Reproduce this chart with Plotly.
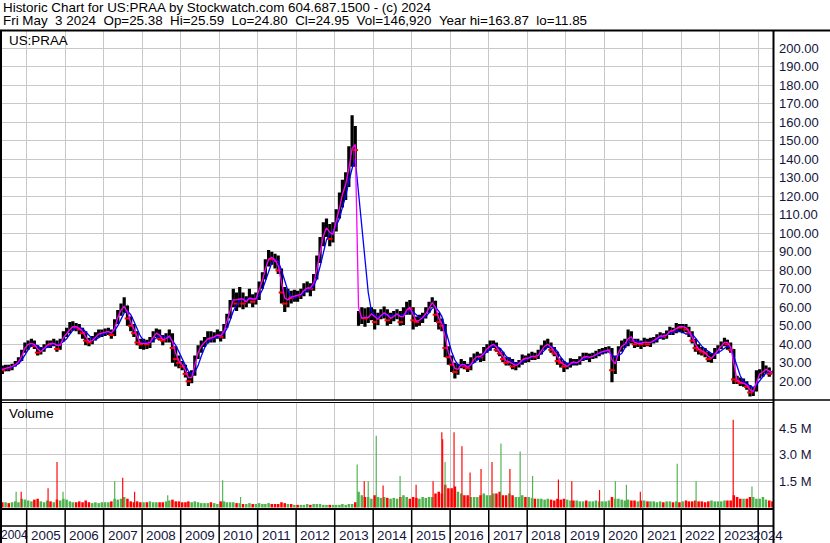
import pandas as pd
import plotly.graph_objects as go

# ---------------- data (monthly) ----------------
months = pd.date_range("2004-04-01", "2024-05-01", freq="MS") + pd.Timedelta(days=14)

open_ = [
    28, 27, 26, 28, 27, 28.5, 30, 31.5, 36,
    40, 40, 41, 39, 35.5, 37, 39, 40.5, 40, 41.5, 37.5, 42,
    45.5, 47, 49, 50, 49, 48, 46, 42, 41, 43, 45, 46,
    46, 47, 47, 45, 52, 57, 60, 61, 54, 50, 46, 41,
    40, 41, 40, 42, 45, 47, 43, 42, 44, 45, 38, 32,
    30, 28, 24, 20, 24, 33, 38, 40, 42, 44, 43, 45,
    45, 44, 50, 55, 62, 66, 62, 67, 62, 64, 66, 63,
    66, 72, 77, 84, 88, 86, 85, 80, 68, 62, 66, 65,
    67, 66, 68, 70, 71, 70, 76, 85, 95, 102, 104, 97,
    102, 110, 117, 125, 128, 142, 150, 50.5, 52, 55, 54, 55,
    58, 52, 55, 57, 58, 53, 55, 56, 57, 52, 58, 60,
    59, 53, 52, 54, 55, 58, 62, 63, 56, 52, 50, 38,
    33, 29, 25, 28, 30, 28, 27, 31, 33, 34, 33, 37,
    38, 40, 40, 37, 35, 32, 30, 31, 28, 29, 30, 33,
    32, 33, 34, 33, 35, 38, 40, 40, 37, 35, 31, 30,
    28, 28, 31, 30, 30, 32, 34, 33, 33, 34, 35, 36,
    36, 37, 37, 26, 33, 38, 40, 40, 46, 42, 40, 41,
    40, 42, 40, 42, 42, 44, 45, 44, 46, 48, 47, 50,
    49, 50, 48, 46, 42, 38, 37, 36, 35, 32, 33, 36,
    38, 40, 42, 40, 37, 21, 20, 19, 19, 17, 14, 15,
    24, 24, 26, 27, 25.38,
]
high = [
    30, 28.5, 29, 29, 29.5, 31, 33, 37, 41,
    42, 43, 42, 39.5, 38.5, 40, 42, 42, 43, 42, 43, 47,
    49, 52, 52.5, 51.5, 51, 49, 47, 43.5, 44.5, 46.5, 48, 48,
    48.5, 49, 48, 53.5, 58.5, 62, 65.5, 61, 55, 51, 47, 43,
    43, 42.5, 44, 47, 48.5, 48, 45, 46, 48, 46, 39, 34,
    31, 29, 25, 26, 34, 39.5, 42, 44, 47, 47, 46.5, 48,
    47, 51, 56.5, 64, 70, 68, 71, 68, 66, 70, 67, 68,
    74, 79, 86, 91, 90, 89, 88, 81, 71, 70, 69, 69.5,
    69, 70, 73, 74, 73, 78, 88, 98, 106, 108, 105, 106,
    113, 122, 129, 133, 147, 163.87, 158, 58, 60, 59.5, 60, 60,
    59, 57, 59, 60.5, 59, 57, 58, 59, 58, 60, 63, 64,
    60, 55, 56, 57, 60, 63, 65.5, 63.5, 57, 54, 51, 39,
    34, 30, 29.5, 32, 31, 29.5, 33, 35, 36, 35, 38.5, 40,
    42, 42, 41, 38, 36, 33, 33, 32, 30.5, 31.5, 34.5, 34,
    35, 36, 35.5, 37, 39.5, 42, 43, 41, 38.5, 36, 32.5, 31,
    30, 32.5, 32, 32, 33.5, 35.5, 35.5, 35, 35.5, 36.5, 37.5, 38,
    38.5, 39, 38, 34, 39, 42, 43, 48, 47, 43, 43, 42,
    43.5, 43, 43.5, 44, 45.5, 46.5, 46, 47.5, 49.5, 49, 51.5, 51,
    51, 51, 49.5, 47, 43, 40, 38.5, 38, 36, 35, 38, 39.5,
    41.5, 43.5, 42.5, 41, 37.5, 23, 22, 21.5, 20, 18, 17, 26,
    26.5, 31, 28.5, 27.5, 25.59,
]
low = [
    25.5, 24, 25.5, 25.5, 26, 28, 29.5, 31, 35.5,
    37, 38.5, 37.5, 34, 34.5, 36, 38, 38, 39, 36, 37, 41.5,
    44, 46, 47.5, 47, 45.5, 43, 39.5, 39, 40, 42, 43.5, 44,
    44.5, 45, 43, 44.5, 51, 55.5, 57, 50, 47, 44, 39.5, 37.5,
    37, 37.5, 38, 41, 44, 42, 39.5, 41, 41, 30, 28, 27,
    26, 22, 17.5, 19, 23, 32, 35.5, 38.5, 40.5, 41, 41, 43,
    41.5, 43, 49, 54, 60, 58, 60, 59, 60, 62, 60, 61.5,
    64, 70, 75, 82, 83, 81, 78, 62, 57.5, 60, 62, 63,
    63, 64.5, 66, 68, 66, 69, 75, 84, 93, 98, 93, 95,
    101, 108, 114, 118, 125, 136, 136, 50, 51, 49.5, 51.5, 53,
    48, 50.5, 53.5, 54, 50, 51, 52.5, 53.5, 50, 50.5, 56, 56,
    48, 49.5, 50, 51.5, 54, 57, 60, 52, 48, 47, 33, 29,
    25, 21.5, 23.5, 27, 26.5, 25, 26, 30, 31.5, 30.5, 31, 35.5,
    36.5, 38, 36, 33.5, 30.5, 28.5, 28.5, 26.5, 26, 27.5, 29, 30,
    30.5, 31.5, 31.5, 32, 34.5, 37, 38, 35.5, 33.5, 29, 27.5, 25,
    26.5, 27.5, 28.5, 28.5, 29, 31, 31.5, 30.5, 32, 32.5, 33.5, 34.5,
    35, 35.5, 19.5, 24, 31, 36, 38, 39, 40.5, 38, 38.5, 37.5,
    38.5, 39, 38.5, 40.5, 41, 43, 42.5, 43, 45, 45, 46, 46.5,
    46, 46.5, 44, 40.5, 36, 34.5, 34, 33, 30.5, 30, 32, 35,
    37.5, 39, 37, 35.5, 18.5, 18.5, 17.5, 17, 15.5, 11.85, 12, 14.5,
    21.5, 22.5, 24.5, 22.5, 24.5,
]
close = [
    27, 26, 28, 27, 28.5, 30, 31.5, 36, 40,
    40, 41, 39, 35.5, 37, 39, 40.5, 40, 41.5, 37.5, 42, 45.5,
    47, 49, 50, 49, 48, 46, 42, 41, 43, 45, 46, 46,
    47, 47, 45, 52, 57, 60, 61, 54, 50, 46, 41, 40,
    41, 40, 42, 45, 47, 43, 42, 44, 45, 38, 32, 30,
    28, 24, 20, 24, 33, 38, 40, 42, 44, 43, 45, 45,
    44, 50, 55, 62, 66, 62, 67, 62, 64, 66, 63, 66,
    72, 77, 84, 88, 86, 85, 80, 68, 62, 66, 65, 67,
    66, 68, 70, 71, 70, 76, 85, 95, 102, 104, 97, 102,
    110, 117, 125, 128, 142, 150, 145, 52, 55, 54, 55, 58,
    52, 55, 57, 58, 53, 55, 56, 57, 52, 58, 60, 59,
    53, 52, 54, 55, 58, 62, 63, 56, 52, 50, 38, 33,
    29, 25, 28, 30, 28, 27, 31, 33, 34, 33, 37, 38,
    40, 40, 37, 35, 32, 30, 31, 28, 29, 30, 33, 32,
    33, 34, 33, 35, 38, 40, 40, 37, 35, 31, 30, 28,
    28, 31, 30, 30, 32, 34, 33, 33, 34, 35, 36, 36,
    37, 37, 26, 33, 38, 40, 40, 46, 42, 40, 41, 40,
    42, 40, 42, 42, 44, 45, 44, 46, 48, 47, 50, 49,
    50, 48, 46, 42, 38, 37, 36, 35, 32, 33, 36, 38,
    40, 42, 40, 37, 21, 20, 19, 19, 17, 14, 15, 24,
    24, 26, 27, 24, 24.95,
]
ma_fast = [
    27.5, 26.5, 27, 27.5, 28, 29, 30.5, 33.5, 38,
    40, 40.5, 40, 37.5, 36, 38, 39.5, 40.5, 40.5, 39.5, 39.5, 43.5,
    46, 48, 49.5, 49.5, 48.5, 47, 44, 41.5, 42, 44, 45.5, 46,
    46.5, 47, 46, 48.5, 54.5, 58.5, 60.5, 57.5, 52, 48, 43.5, 40.5,
    40.5, 40.5, 41, 43.5, 46, 45, 42.5, 43, 44.5, 41.5, 35, 31,
    29, 26, 22, 22, 28.5, 35.5, 39, 41, 43, 43.5, 44, 45,
    44.5, 47, 52.5, 58.5, 64, 64, 64.5, 64.5, 63, 65, 64.5, 64.5,
    69, 74.5, 80.5, 86, 87, 85.5, 82.5, 74, 65, 64, 65.5, 66,
    66.5, 67, 69, 70.5, 70.5, 73, 80.5, 90, 98.5, 103, 100.5, 99.5,
    106, 113.5, 121, 126.5, 135, 146, 148, 60, 54, 54.5, 54.5, 56.5,
    55, 53.5, 55.5, 57, 56, 54, 55, 56.5, 55, 55, 58.5, 60,
    56, 52.5, 53, 54.5, 56.5, 60, 62.5, 60, 54, 51, 44, 35.5,
    31, 27, 26.5, 29, 29, 27.5, 29, 32, 33.5, 33.5, 35, 37.5,
    39, 40, 38.5, 36, 33.5, 31, 30.5, 29.5, 28.5, 29.5, 31.5, 32.5,
    32.5, 33.5, 33.5, 34, 36.5, 39, 40, 38.5, 36, 33, 30.5, 29,
    28, 29.5, 30.5, 30, 31, 33, 33.5, 33, 33.5, 34.5, 35.5, 36,
    36.5, 37, 31.5, 29.5, 35.5, 39, 40, 43, 44, 41, 40.5, 40.5,
    41, 41, 41, 42, 43, 44.5, 44.5, 45, 47, 47.5, 48.5, 49.5,
    49.5, 49, 47, 44, 40, 37.5, 36.5, 35.5, 33.5, 32.5, 34.5, 37,
    39, 41, 41, 38.5, 29, 20.5, 19.5, 19, 18, 15.5, 14.5, 19.5,
    24, 25, 26.5, 25.5, 24.5,
]
ma_slow = [
    27, 27, 27, 27, 27.5, 28.5, 29.5, 31.5, 34.5,
    37, 39.5, 40, 39, 38, 37.5, 38.5, 39, 40, 40, 40, 41.5,
    43, 45.5, 47.5, 49, 49, 48.5, 46.5, 44.5, 43, 42.5, 43.5, 45,
    46, 46.5, 46.5, 47.5, 50, 53.5, 57, 58, 56, 52.5, 48, 44.5,
    42, 40.5, 41, 42, 43.5, 44.5, 44.5, 44, 43.5, 42, 39.5, 36,
    32, 28.5, 25.5, 24, 25, 28.5, 33.5, 38, 41, 42.5, 43.5, 44,
    44.5, 46, 48.5, 53, 58, 61, 64, 64, 64, 64.5, 64, 64.5,
    66, 69.5, 74, 80, 84, 86, 85, 80, 74, 69, 65.5, 65,
    66, 66.5, 68, 69, 70, 71.5, 75.5, 82, 89.5, 96.5, 99.5, 101,
    104, 108, 114, 120, 128, 135, 140, 122, 102, 84, 68, 58,
    55.5, 55, 55.5, 56, 56, 55.5, 55.5, 56, 55.5, 56, 57, 58,
    57.5, 56, 54.5, 54, 55, 57, 59.5, 60, 58, 55, 49, 43,
    36, 31.5, 29, 28.5, 28.5, 28.5, 29, 30, 31.5, 33, 34.5, 36,
    37.5, 39, 39, 38, 36, 33.5, 32, 30.5, 29.5, 29.5, 30.5, 31.5,
    32.5, 33, 33.5, 34, 35, 37, 38.5, 39, 38, 36, 33, 31,
    29.5, 29.5, 29.5, 30, 31, 32, 32.5, 33, 33.5, 34, 35, 35.5,
    36, 36.5, 34, 33, 34, 35, 38, 41, 42.5, 42, 41.5, 41,
    41, 41, 41, 41.5, 42.5, 43.5, 44, 45, 46, 46.5, 47, 47,
    46.5, 45.5, 45.5, 45.5, 43.5, 41, 39, 37.5, 36, 35, 35, 35.5,
    36.5, 38, 39, 38.5, 33, 28, 23, 20, 19, 17.5, 16.5, 18,
    20.5, 22.5, 24.5, 25, 25,
]
# typical daily volume level per month (millions of shares)
vol_base = [
    0.35, 0.3, 0.3, 0.25, 0.3, 0.35, 0.3, 0.5, 0.45,
    0.4, 0.35, 0.45, 0.5, 0.35, 0.3, 0.4, 0.35, 0.3, 0.45, 0.4, 0.5,
    0.45, 0.35, 0.3, 0.3, 0.35, 0.3, 0.4, 0.3, 0.25, 0.3, 0.25, 0.3,
    0.3, 0.3, 0.35, 0.5, 0.45, 0.5, 0.6, 0.5, 0.35, 0.3, 0.35, 0.3,
    0.3, 0.3, 0.35, 0.3, 0.3, 0.3, 0.3, 0.35, 0.4, 0.45, 0.35, 0.35,
    0.3, 0.3, 0.35, 0.3, 0.35, 0.3, 0.25, 0.25, 0.25, 0.3, 0.25, 0.2,
    0.35, 0.35, 0.3, 0.3, 0.3, 0.25, 0.25, 0.2, 0.2, 0.25, 0.2, 0.2,
    0.25, 0.2, 0.2, 0.25, 0.2, 0.2, 0.2, 0.3, 0.25, 0.2, 0.2, 0.15,
    0.15, 0.15, 0.15, 0.2, 0.15, 0.2, 0.2, 0.2, 0.15, 0.15, 0.15, 0.15,
    0.15, 0.15, 0.2, 0.15, 0.2, 0.2, 0.3, 0.9, 0.7, 0.6, 0.6, 0.5,
    0.7, 0.6, 0.55, 0.6, 0.55, 0.5, 0.55, 0.5, 0.6, 0.7, 0.6, 0.5,
    0.6, 0.55, 0.5, 0.6, 0.55, 0.6, 0.6, 0.8, 0.9, 0.8, 1.3, 1.1,
    1.1, 1.2, 0.9, 0.8, 0.7, 0.7, 0.6, 0.6, 0.6, 0.7, 0.8, 0.7,
    0.7, 0.8, 0.8, 0.9, 0.7, 0.7, 0.8, 0.7, 0.6, 0.6, 0.7, 0.6,
    0.6, 0.55, 0.5, 0.5, 0.5, 0.45, 0.5, 0.45, 0.4, 0.5, 0.45, 0.5,
    0.45, 0.4, 0.4, 0.4, 0.35, 0.35, 0.4, 0.35, 0.35, 0.4, 0.35, 0.35,
    0.35, 0.4, 0.6, 0.5, 0.5, 0.45, 0.4, 0.45, 0.4, 0.4, 0.35, 0.4,
    0.4, 0.35, 0.35, 0.35, 0.3, 0.35, 0.3, 0.35, 0.35, 0.3, 0.35, 0.3,
    0.35, 0.4, 0.35, 0.35, 0.4, 0.35, 0.35, 0.3, 0.35, 0.4, 0.35, 0.35,
    0.35, 0.4, 0.4, 0.4, 0.7, 0.6, 0.5, 0.5, 0.5, 0.6, 0.6, 0.5,
    0.5, 0.6, 0.45, 0.4, 0.35,
]
# single-day volume spikes (millions of shares)
spike_dates = ["2004-09-23", "2004-11-10", "2005-07-23", "2005-10-16", "2005-12-12",
               "2007-04-16", "2007-07-01", "2007-10-22", "2008-08-31", "2010-02-03",
               "2010-07-23", "2013-08-02", "2013-10-08", "2013-11-15", "2014-01-30",
               "2014-04-05", "2014-09-13", "2015-02-12", "2015-07-23", "2015-10-14",
               "2015-10-22", "2015-11-14", "2016-02-07", "2016-04-22", "2016-07-08",
               "2016-10-20", "2017-02-01", "2017-04-27", "2017-07-21", "2017-10-26",
               "2018-02-21", "2018-10-24", "2019-02-28", "2019-11-18", "2020-04-16",
               "2020-07-30", "2020-12-09", "2021-11-24", "2022-05-22", "2023-05-09",
               "2023-11-03"]
spike_vals = [0.9, 0.9, 1.1, 2.6, 0.9, 1.5, 1.7, 0.9, 0.7, 1.55,
              0.6, 2.45, 1.5, 1.5, 4.1, 1.25, 1.8, 1.3, 1.5, 4.3,
              3.9, 2.6, 4.3, 3.5, 2.0, 2.2, 2.6, 3.65, 2.2, 3.2,
              1.8, 1.6, 1.5, 1.0, 1.5, 1.3, 0.9, 2.5, 1.5, 5.0,
              1.2]
spike_up = [1, 0, 0, 0, 1, 1, 0, 0, 1, 1,
            1, 1, 0, 1, 1, 0, 1, 0, 0, 0,
            0, 1, 0, 0, 0, 0, 0, 1, 0, 1,
            1, 0, 0, 0, 1, 1, 0, 1, 1, 0,
            1]

years = list(range(2004, 2025))
price_ticks = list(range(20, 201, 10))
vol_ticks = [1.5, 3.0, 4.5]
vol_tick_text = ["1.5 M", "3.0 M", "4.5 M"]

header1 = "Historic Chart for US:PRAA by Stockwatch.com 604.687.1500 - (c) 2024"
header2 = ("Fri May\u00a0\u00a03 2024\u00a0\u00a0Op=25.38\u00a0\u00a0Hi=25.59\u00a0\u00a0Lo=24.80"
           "\u00a0\u00a0Cl=24.95\u00a0\u00a0Vol=146,920\u00a0\u00a0Year hi=163.87\u00a0\u00a0lo=11.85")

# ---------------- geometry ----------------
W, H = 830, 543
ML, MR, MT, MB = 0, 56, 31, 34
PW, PH = W - ML - MR, H - MT - MB


def px(xp):
    return (xp - ML) / PW


def py(yp):
    return (H - MB - yp) / PH


X0, X1 = pd.Timestamp("2004-04-23"), pd.Timestamp("2024-05-30")
DAYS_PER_PX = (X1 - X0).days / PW
FONT = "Liberation Sans, Arial, sans-serif"
GRID = "#c8c8c8"
GREEN = "#4fb24f"
RED = "#ff0000"
TICKCOL = "#14143c"

year_starts = [pd.Timestamp(f"{y}-01-01") for y in years[1:]]

fig = go.Figure()
fig.add_trace(go.Ohlc(
    x=months, open=open_, high=high, low=low, close=close,
    increasing_line_color="black", decreasing_line_color="black",
    line_width=3.2, tickwidth=0.08, xaxis="x", yaxis="y", hoverinfo="skip"))
down = [i for i, (o, c) in enumerate(zip(open_, close)) if c < o]
fig.add_trace(go.Scatter(
    x=[months[i] for i in down], y=[close[i] for i in down], mode="markers",
    marker=dict(symbol="line-ew", size=4, line=dict(color=RED, width=2)),
    xaxis="x", yaxis="y", hoverinfo="skip"))
fig.add_trace(go.Scatter(x=months, y=ma_slow, mode="lines",
                         line=dict(color="#0000ff", width=1.3), xaxis="x", yaxis="y"))
fig.add_trace(go.Scatter(x=months, y=ma_fast, mode="lines",
                         line=dict(color="#ff00ff", width=1.3), xaxis="x", yaxis="y"))

base_cols = [GREEN if c >= o else RED for o, c in zip(open_, close)]
fig.add_trace(go.Bar(x=months, y=vol_base, marker=dict(color=base_cols, line_width=0),
                     width=24 * 86400000, xaxis="x2", yaxis="y2"))
fig.add_trace(go.Bar(x=pd.to_datetime(spike_dates), y=spike_vals,
                     marker=dict(color=[GREEN if u else RED for u in spike_up], line_width=0),
                     width=11 * 86400000, xaxis="x2", yaxis="y2"))

axis_common = dict(range=[X0, X1], type="date", tickvals=year_starts, showgrid=True,
                   gridcolor=GRID, gridwidth=1, showticklabels=False, ticks="",
                   zeroline=False, showline=False, fixedrange=True)

fig.update_layout(
    width=W, height=H,
    margin=dict(l=ML, r=MR, t=MT, b=MB, pad=0),
    paper_bgcolor="white", plot_bgcolor="white",
    showlegend=False, barmode="overlay", hovermode=False,
    xaxis=dict(domain=[0, 1], anchor="y", rangeslider=dict(visible=False), **axis_common),
    xaxis2=dict(domain=[0, 1], anchor="y2", matches="x", **axis_common),
    yaxis=dict(domain=[py(400), 1], range=[9.9, 209.35], side="right",
               tickvals=price_ticks, ticktext=[f"{v:.2f}" for v in price_ticks],
               showgrid=True, gridcolor=GRID, gridwidth=1, zeroline=False,
               ticks="", ticklabelstandoff=4, fixedrange=True,
               tickfont=dict(family=FONT, size=13, color=TICKCOL)),
    yaxis2=dict(domain=[0, py(402)], range=[-0.086, 6.02], side="right",
                tickvals=vol_ticks, ticktext=vol_tick_text,
                showgrid=True, gridcolor=GRID, gridwidth=1, zeroline=False,
                ticks="", ticklabelstandoff=4, fixedrange=True,
                tickfont=dict(family=FONT, size=13, color=TICKCOL)),
)

# ---------------- frame lines ----------------
shapes = []


def hline(yp, x0p, x1p, w):
    shapes.append(dict(type="line", xref="paper", yref="paper", x0=px(x0p), x1=px(x1p),
                       y0=py(yp), y1=py(yp), line=dict(color="black", width=w)))


def vline(xp, y0p, y1p, w):
    shapes.append(dict(type="line", xref="paper", yref="paper", x0=px(xp), x1=px(xp),
                       y0=py(y0p), y1=py(y1p), line=dict(color="black", width=w)))


hline(30.5, 0, W, 2)
hline(400, 0, W, 1.5)
hline(402.5, 0, 774, 1)
hline(509, 0, 774, 2)
hline(526, 0, 774, 1.5)
vline(1, 30, H, 2)
vline(773.5, 30, H, 2)
for ys in year_starts:
    shapes.append(dict(type="line", xref="x", yref="paper", x0=ys, x1=ys,
                       y0=py(509), y1=py(H), line=dict(color="black", width=1.5)))
fig.update_layout(shapes=shapes)

# ---------------- texts ----------------
ann = []


def text(s, xp, yp, anchor="left", size=13.4, color="black"):
    ann.append(dict(text=s, xref="paper", yref="paper", x=px(xp), y=py(yp),
                    xanchor=anchor, yanchor="middle", showarrow=False,
                    font=dict(family=FONT, size=size, color=color)))


text(header1, 1, 7)
text(header2, 1, 20)
text("US:PRAA", 7, 40)
text("Volume", 7, 413)

bounds = [X0] + year_starts + [X1]
for i, y in enumerate(years):
    a, b = bounds[i], bounds[i + 1]
    if i == 0:
        ann.append(dict(text=str(y), xref="paper", yref="paper", x=px(-1.5), y=py(535),
                        xanchor="left", yanchor="middle", showarrow=False,
                        font=dict(family=FONT, size=12, color=TICKCOL)))
        continue
    if i == len(years) - 1:
        xpos = a + (b - a) / 2 + pd.Timedelta(days=DAYS_PER_PX * 2)
    else:
        xpos = a + (b - a) / 2
    ann.append(dict(text=str(y), xref="x", yref="paper", x=xpos, y=py(535),
                    xanchor="center", yanchor="middle", showarrow=False,
                    font=dict(family=FONT, size=13.4, color=TICKCOL)))

fig.update_layout(annotations=ann)
fig.write_html("out.html", config={"displayModeBar": False, "staticPlot": True},
               post_script="document.body.style.margin='0';document.body.style.overflow='hidden';")
